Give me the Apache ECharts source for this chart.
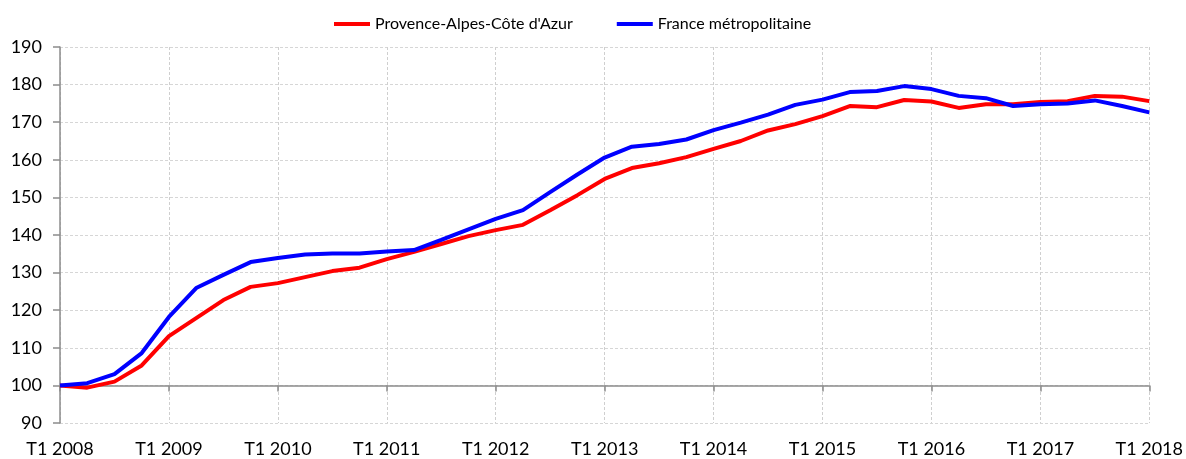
<!DOCTYPE html>
<html>
<head>
<meta charset="utf-8">
<script src="https://cdn.jsdelivr.net/npm/echarts@6/dist/echarts.min.js"></script>
<style>
  html, body { margin: 0; padding: 0; background: #fff; }
  #chart { width: 1186px; height: 459px; }
</style>
</head>
<body>
<div id="chart"></div>
<script>
// Quarterly index, base 100 = T1 2008
const years = [2008, 2009, 2010, 2011, 2012, 2013, 2014, 2015, 2016, 2017, 2018];
const quarters = [];
years.forEach(function (y) {
  for (let q = 1; q <= 4; q++) {
    if (y === 2018 && q > 1) break;
    quarters.push('T' + q + ' ' + y);
  }
});

const seriesNames = ["Provence-Alpes-Côte d'Azur", 'France métropolitaine'];

const paca = [
  100.0, 99.4, 101.0, 105.3,
  113.1, 117.9, 122.7, 126.2,
  127.2, 128.8, 130.4, 131.3,
  133.6, 135.5, 137.6, 139.7,
  141.3, 142.7, 146.6, 150.6,
  154.9, 157.8, 159.1, 160.7,
  162.9, 165.0, 167.8, 169.5,
  171.6, 174.3, 174.0, 175.9,
  175.5, 173.8, 174.8, 174.8,
  175.4, 175.6, 177.0, 176.8,
  175.6
];

const france = [
  100.0, 100.6, 103.0, 108.6,
  118.2, 125.9, 129.4, 132.8,
  133.9, 134.8, 135.1, 135.1,
  135.6, 136.0, 138.7, 141.5,
  144.3, 146.6, 151.4, 156.1,
  160.6, 163.5, 164.2, 165.4,
  167.9, 169.9, 172.0, 174.6,
  176.0, 178.0, 178.3, 179.6,
  178.8, 177.0, 176.4, 174.3,
  174.8, 175.0, 175.8, 174.3,
  172.6
];

const yMin = 90, yMax = 190, yStep = 10;
const baseValue = 100;

const font = 'Lato, "Open Sans", sans-serif';
const chart = echarts.init(document.getElementById('chart'), null, { renderer: 'canvas' });

const grid = { left: 60, right: 35, top: 47, bottom: 36 };
const plotHeight = 459 - grid.top - grid.bottom;
// pixel offset of the base-100 line above the bottom of the plot
const baseOffset = -plotHeight * (baseValue - yMin) / (yMax - yMin);

chart.setOption({
  animation: false,
  backgroundColor: '#ffffff',
  textStyle: { fontFamily: font },
  legend: {
    top: 11,
    left: 329,
    itemWidth: 36,
    itemHeight: 4,
    itemGap: 44,
    icon: 'rect',
    textStyle: { fontFamily: font, fontSize: 16, color: '#000' },
    data: seriesNames
  },
  grid: grid,
  xAxis: [
    {
      type: 'category',
      data: quarters,
      boundaryGap: false,
      axisLine: { show: false },
      axisTick: { show: false },
      axisLabel: {
        interval: 3,
        margin: 17,
        fontFamily: font,
        fontSize: 18,
        color: '#000'
      },
      splitLine: {
        show: true,
        interval: 3,
        lineStyle: { color: '#cfcfcf', type: [3, 2], width: 1 }
      }
    },
    {
      // base-100 axis line with yearly ticks
      type: 'category',
      data: quarters,
      boundaryGap: false,
      position: 'bottom',
      offset: baseOffset,
      axisLine: { show: true, lineStyle: { color: '#8c8c8c', width: 1.5 } },
      axisTick: { show: true, interval: 3, length: 6, lineStyle: { color: '#8c8c8c', width: 1.5 } },
      axisLabel: { show: false },
      splitLine: { show: false }
    }
  ],
  yAxis: {
    type: 'value',
    min: yMin,
    max: yMax,
    interval: yStep,
    axisLine: { show: true, lineStyle: { color: '#8c8c8c', width: 1.5 } },
    axisTick: { show: true, length: 7, lineStyle: { color: '#8c8c8c', width: 1.5 } },
    axisLabel: { fontFamily: font, fontSize: 18, color: '#000', margin: 18 },
    splitLine: { show: true, lineStyle: { color: '#d6d6d6', type: [3, 2], width: 1 } }
  },
  series: [
    {
      name: seriesNames[0],
      type: 'line',
      data: paca,
      xAxisIndex: 0,
      showSymbol: false,
      symbol: 'none',
      color: '#ff0000',
      lineStyle: { color: '#ff0000', width: 4 },
      z: 3
    },
    {
      name: seriesNames[1],
      type: 'line',
      data: france,
      xAxisIndex: 0,
      showSymbol: false,
      symbol: 'none',
      color: '#0000ff',
      lineStyle: { color: '#0000ff', width: 4 },
      z: 4
    }
  ]
});
</script>
</body>
</html>
